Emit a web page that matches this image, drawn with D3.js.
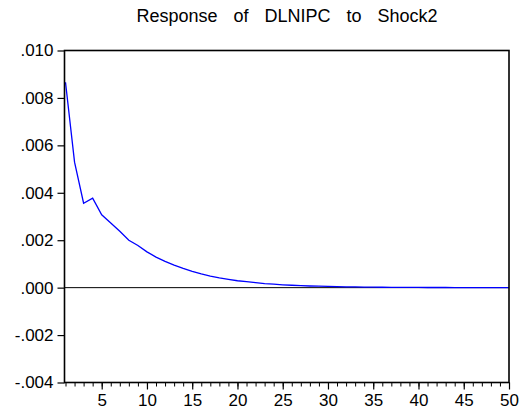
<!DOCTYPE html>
<html><head><meta charset="utf-8">
<script src="https://cdn.jsdelivr.net/npm/d3@7"></script>
<style>body{margin:0;background:#fff}svg{display:block}text{font-family:"Liberation Sans",Arial,sans-serif;fill:#000}</style>
</head><body>
<svg id="c" width="521" height="414"></svg>
<script>
const title = "Response of DLNIPC to Shock2";
const periods = d3.range(1, 51);
const response = [0.00866,0.00529,0.00356,0.00377,0.00307,0.00273,0.00238,0.00200,0.00178,0.00151,
0.00129,0.00111,0.00095,0.00081,0.00069,0.00058,0.00049,0.00041,0.00035,0.00029,
0.00025,0.00021,0.00017,0.000145,0.00012,0.00010,0.000085,0.00007,0.00006,0.00005,
0.000042,0.000035,0.000029,0.000024,0.00002,0.000017,0.000014,0.000012,0.00001,0.000008,
0.000007,0.000006,0.000005,0.000004,0.0000035,0.000003,0.0000025,0.000002,0.0000017,0.0000014];
const yTicks = [-0.004,-0.002,0,0.002,0.004,0.006,0.008,0.010];
const xMajor = [5,10,15,20,25,30,35,40,45,50];

const svg = d3.select("#c");
const L = 64.5, R = 509, T = 50.5, B = 382.5;
const FS = "17px";
const x = d3.scaleLinear().domain([1,50]).range([65.5, R]);
const y = d3.scaleLinear().domain([-0.004,0.010]).range([B, T]);
const fmt = v => { const s = d3.format(".3f")(Math.abs(v)).replace(/^0/,""); return (v<0?"-":"")+s; };

// y axis
const ya = svg.append("g").attr("transform",`translate(${L},0)`)
  .call(d3.axisLeft(y).tickValues(yTicks).tickSize(7).tickPadding(4).tickFormat(fmt));
ya.select(".domain").remove();
ya.selectAll("line").attr("stroke","#000").attr("stroke-width",1.2);
ya.selectAll("text").attr("font-size",FS).attr("font-family","Liberation Sans, Arial, sans-serif");

// x axis minor ticks
const xa = svg.append("g").attr("transform",`translate(0,${B})`)
  .call(d3.axisBottom(x).tickValues(periods).tickSize(4).tickFormat(""));
xa.select(".domain").remove();
xa.selectAll("line").attr("stroke","#000").attr("stroke-width",1);
const xb = svg.append("g").attr("transform",`translate(0,${B})`)
  .call(d3.axisBottom(x).tickValues(xMajor).tickSize(7).tickPadding(4).tickFormat(d3.format("d")));
xb.select(".domain").remove();
xb.selectAll("line").attr("stroke","#000").attr("stroke-width",1.2);
xb.selectAll("text").attr("font-size",FS).attr("font-family","Liberation Sans, Arial, sans-serif");

// zero line
svg.append("line").attr("x1",L).attr("x2",R).attr("y1",y(0)).attr("y2",y(0))
  .attr("stroke","#000").attr("stroke-width",1);

// response line
svg.append("path").datum(response)
  .attr("fill","none").attr("stroke","#0000ff").attr("stroke-width",1.3)
  .attr("d", d3.line().x((d,i)=>x(periods[i])).y(d=>y(d)));

// frame
svg.append("rect").attr("x",L).attr("y",T).attr("width",R-L).attr("height",B-T)
  .attr("fill","none").attr("stroke","#000").attr("stroke-width",1.6);

// title
svg.append("text").attr("x",287).attr("y",22).attr("text-anchor","middle")
  .attr("font-size","18px").style("word-spacing","11px").text(title);
</script>
</body></html>
